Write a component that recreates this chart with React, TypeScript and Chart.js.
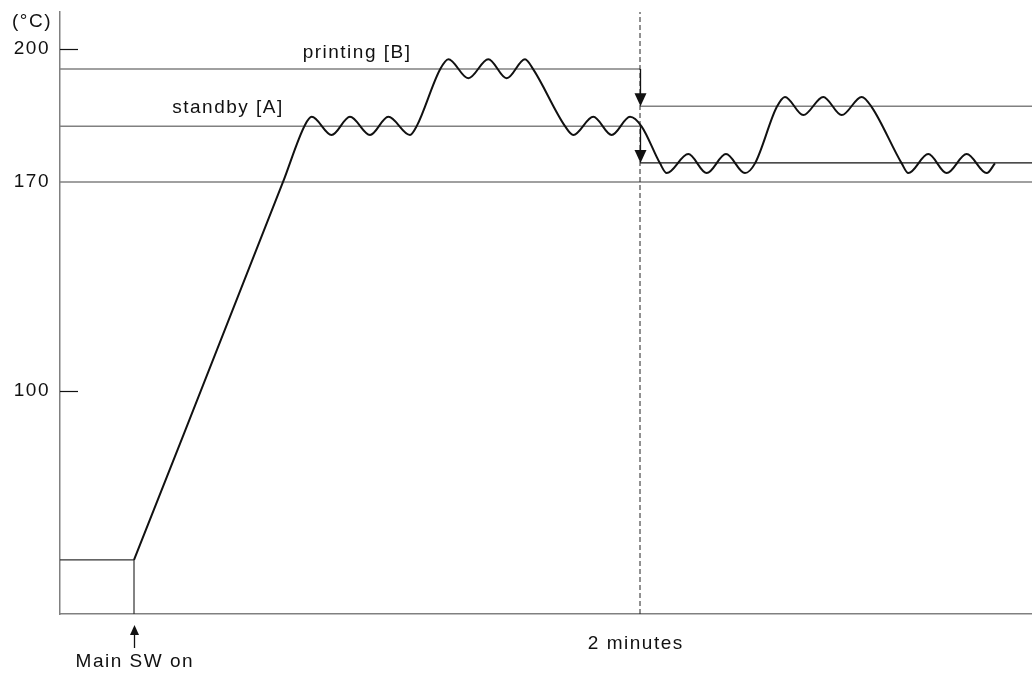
import React, { useEffect, useRef } from 'react';
import { Chart, registerables } from 'chart.js';

Chart.register(...registerables);

// ---- axis ranges (time in seconds after main switch on, temperature in °C) ----
const T_MIN = -17.55;
const T_MAX = 212.96;
const Y_BOTTOM = 25.3;
const Y_TOP = 208.35;
const Y_TICKS = [100, 170, 200];
const SHORT_TICKS = [100, 200];

// schematic axis: the span above 170 °C is drawn stretched
const BREAK_TEMP = 170;
const ABOVE_STRETCH = 1.4846;

// ---- levels ----
const INITIAL_LEVEL = 43.4;
const BASE_LEVEL = 170;
const STANDBY_LEVEL = 182.6;
const PRINTING_LEVEL = 195.5;
const UPPER_AFTER_LEVEL = 187.1;
const LOWER_AFTER_LEVEL = 174.3;
const SWITCH_ON_T = 0;
const TWO_MIN_T = 120;

// ---- temperature curve ----
const CURVE_T = [
  0, 35.34, 40.55, 42.14, 46.86, 51.22, 55.97, 60.31, 65.45, 67.04, 72.57,
  74.54, 79.28, 84.02, 88.38, 92.73, 94.69, 102.21, 104.18, 108.92, 113.28,
  117.63, 120.4, 124.74, 126.33, 131.45, 135.82, 140.39, 144.9, 147.27,
  152.42, 154.38, 158.72, 163.46, 167.83, 172.57, 174.95, 182.06, 183.62,
  188.36, 192.73, 197.47, 202.22, 204.18,
];
const CURVE_TEMP = [
  43.4, 170, 182.86, 184.7, 180.6, 184.7, 180.6, 184.7, 180.6, 182.6, 195.4,
  197.7, 193.4, 197.7, 193.4, 197.7, 195.4, 182.6, 180.6, 184.7, 180.6,
  184.7, 182.5, 174.2, 172.0, 176.3, 172.0, 176.3, 172.0, 174.2,
  186.9, 189.2, 185.1, 189.2, 185.1, 189.2, 186.9, 174.2, 172.0,
  176.3, 172.0, 176.3, 172.0, 174.2,
];

// ---- text labels (anchor time, anchor temperature) ----
const PRINTING_LABEL = { text: 'printing [B]', t: 52.9, temp: 199.1 };
const STANDBY_LABEL = { text: 'standby [A]', t: 22.3, temp: 186.7 };
const TWO_MIN_LABEL = { text: '2 minutes', t: 119.0 };
const SWITCH_LABEL = { text: 'Main SW on', t: 0.2 };
const UNIT_LABEL = '(°C)';

const FONT = '"Liberation Sans", Arial, Helvetica, sans-serif';
const GRAY = '#808080';
const INK = '#111111';

const warp = (v: number) => (v <= BREAK_TEMP ? v : BREAK_TEMP + (v - BREAK_TEMP) * ABOVE_STRETCH);

const pts = (xs: number[], ys: number[]) => xs.map((x, i) => ({ x, y: warp(ys[i]) }));

const straight = (label: string, xs: number[], ys: number[], color: string, width: number, dash: number[] = []) => ({
  label,
  data: pts(xs, ys),
  borderColor: color,
  borderWidth: width,
  borderDash: dash,
  pointRadius: 0,
  tension: 0,
  fill: false,
});

const annotations = {
  id: 'annotations',
  beforeDraw(chart: any) {
    (chart.ctx as any).letterSpacing = '1.5px';
  },
  afterDraw(chart: any) {
    const { ctx, chartArea } = chart;
    const xs = chart.scales.x;
    const ys = chart.scales.y;
    ctx.save();
    // inward short tick marks
    ctx.strokeStyle = INK;
    ctx.lineWidth = 1.2;
    SHORT_TICKS.forEach((v) => {
      const y = Math.round(ys.getPixelForValue(warp(v))) + 0.5;
      ctx.beginPath();
      ctx.moveTo(chartArea.left, y);
      ctx.lineTo(chartArea.left + 18, y);
      ctx.stroke();
    });

    // text
    ctx.fillStyle = INK;
    ctx.font = `19px ${FONT}`;
    (ctx as any).letterSpacing = '1.5px';
    ctx.textBaseline = 'middle';
    ctx.textAlign = 'right';
    ctx.fillText(UNIT_LABEL, chartArea.left - 8, chartArea.top + 10);
    ctx.textAlign = 'center';
    ctx.fillText(PRINTING_LABEL.text, xs.getPixelForValue(PRINTING_LABEL.t), ys.getPixelForValue(warp(PRINTING_LABEL.temp)));
    ctx.fillText(STANDBY_LABEL.text, xs.getPixelForValue(STANDBY_LABEL.t), ys.getPixelForValue(warp(STANDBY_LABEL.temp)));
    ctx.fillText(TWO_MIN_LABEL.text, xs.getPixelForValue(TWO_MIN_LABEL.t), chartArea.bottom + 30);
    ctx.fillText(SWITCH_LABEL.text, xs.getPixelForValue(SWITCH_LABEL.t), chartArea.bottom + 48);

    // down arrows at 2 minutes
    const ax = Math.round(xs.getPixelForValue(TWO_MIN_T)) + 0.5;
    const drawDown = (fromT: number, toT: number) => {
      const y0 = ys.getPixelForValue(warp(fromT));
      const y1 = ys.getPixelForValue(warp(toT));
      ctx.strokeStyle = INK;
      ctx.lineWidth = 1.3;
      ctx.beginPath();
      ctx.moveTo(ax, y0);
      ctx.lineTo(ax, y1 - 10);
      ctx.stroke();
      ctx.beginPath();
      ctx.moveTo(ax - 6, y1 - 13);
      ctx.lineTo(ax + 6, y1 - 13);
      ctx.lineTo(ax, y1);
      ctx.closePath();
      ctx.fill();
    };
    drawDown(PRINTING_LEVEL, UPPER_AFTER_LEVEL);
    drawDown(STANDBY_LEVEL, LOWER_AFTER_LEVEL);

    // up arrow under main switch
    const sx = Math.round(xs.getPixelForValue(SWITCH_ON_T)) + 0.5;
    const b = chartArea.bottom;
    ctx.beginPath();
    ctx.moveTo(sx, b + 34);
    ctx.lineTo(sx, b + 18);
    ctx.stroke();
    ctx.beginPath();
    ctx.moveTo(sx - 4.5, b + 21);
    ctx.lineTo(sx + 4.5, b + 21);
    ctx.lineTo(sx, b + 11);
    ctx.closePath();
    ctx.fill();
    ctx.restore();
  },
};

export default function App() {
  const ref = useRef<HTMLCanvasElement | null>(null);

  useEffect(() => {
    if (!ref.current) return;
    const chart = new Chart(ref.current, {
      type: 'line',
      data: {
        datasets: [
          {
            label: 'temperature',
            data: pts(CURVE_T, CURVE_TEMP),
            borderColor: INK,
            borderWidth: 2,
            pointRadius: 0,
            tension: 0.4,
            cubicInterpolationMode: 'monotone',
            fill: false,
          } as any,
          straight('2 minutes', [TWO_MIN_T, TWO_MIN_T], [Y_BOTTOM, Y_TOP], '#222', 1, [5, 3]),
          straight('printing', [T_MIN, TWO_MIN_T], [PRINTING_LEVEL, PRINTING_LEVEL], GRAY, 1.5),
          straight('standby', [T_MIN, TWO_MIN_T], [STANDBY_LEVEL, STANDBY_LEVEL], GRAY, 1.5),
          straight('upper after', [TWO_MIN_T, T_MAX], [UPPER_AFTER_LEVEL, UPPER_AFTER_LEVEL], GRAY, 1.5),
          straight('lower after', [TWO_MIN_T, T_MAX], [LOWER_AFTER_LEVEL, LOWER_AFTER_LEVEL], INK, 1.3),
          straight('170', [T_MIN, T_MAX], [BASE_LEVEL, BASE_LEVEL], GRAY, 1.5),
          straight('initial', [T_MIN, SWITCH_ON_T, SWITCH_ON_T], [INITIAL_LEVEL, INITIAL_LEVEL, Y_BOTTOM], '#333', 1.2),
        ],
      },
      options: {
        animation: false,
        responsive: true,
        maintainAspectRatio: false,
        layout: { padding: { top: 12, left: 0, right: 0, bottom: 0 } },
        plugins: { legend: { display: false }, tooltip: { enabled: false } },
        scales: {
          x: {
            type: 'linear',
            min: T_MIN,
            max: T_MAX,
            ticks: { display: false },
            grid: { display: false, drawTicks: false },
            border: { color: GRAY, width: 1.5 },
            afterFit: (s: any) => {
              s.height = 61;
              s.paddingLeft = 0;
              s.paddingRight = 0;
            },
          },
          y: {
            type: 'linear',
            min: warp(Y_BOTTOM),
            max: warp(Y_TOP),
            grid: { display: false, drawTicks: false },
            border: { color: GRAY, width: 1.5 },
            afterBuildTicks: (s: any) => {
              s.ticks = Y_TICKS.map((v) => ({ value: warp(v) }));
            },
            ticks: {
              autoSkip: false,
              padding: 10,
              color: INK,
              font: { family: FONT, size: 19 },
              callback: (_v: any, i: number) => String(Y_TICKS[i]),
            },
            afterFit: (s: any) => {
              s.width = 60;
              s.paddingTop = 0;
              s.paddingBottom = 0;
            },
          },
        },
      } as any,
      plugins: [annotations],
    });
    return () => chart.destroy();
  }, []);

  return (
    <div style={{ position: 'absolute', left: 0, top: 0, width: 1032, height: 675, background: '#fff' }}>
      <canvas ref={ref} />
    </div>
  );
}
